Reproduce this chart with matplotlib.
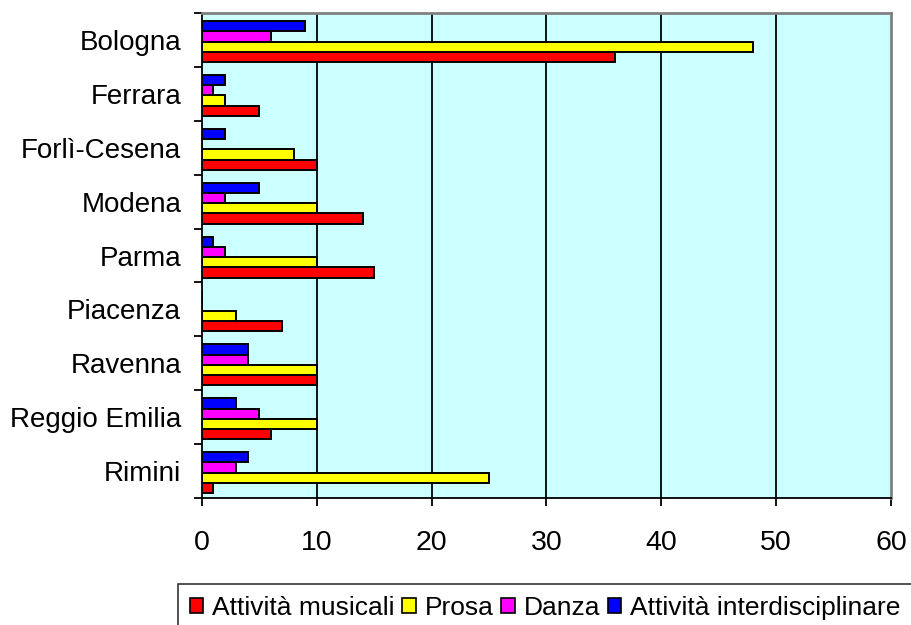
import matplotlib
matplotlib.use("Agg")
import matplotlib.pyplot as plt
import numpy as np
from matplotlib.patches import Patch

plt.rcParams['font.family'] = ['Liberation Sans', 'DejaVu Sans']

categories = ["Bologna", "Ferrara", "Forlì-Cesena", "Modena", "Parma",
              "Piacenza", "Ravenna", "Reggio Emilia", "Rimini"]
series_names = ["Attività musicali", "Prosa", "Danza", "Attività interdisciplinare"]
musicali = [36, 5, 10, 14, 15, 7, 10, 6, 1]
prosa = [48, 2, 8, 10, 10, 3, 10, 10, 25]
danza = [6, 1, 0, 2, 2, 0, 4, 5, 3]
interdisciplinare = [9, 2, 2, 5, 1, 0, 4, 3, 4]
colors = ["#FF0000", "#FFFF00", "#FF00FF", "#0000FF"]
xticks = [0, 10, 20, 30, 40, 50, 60]

fig = plt.figure(figsize=(9.12, 6.25), dpi=100)
ax = fig.add_axes([202/912, 1-498/625, (891-202)/912, (498-13)/625])
ax.set_facecolor("#CCFFFF")

y = np.arange(len(categories))
h = 0.19
offsets = [1.5*h, 0.5*h, -0.5*h, -1.5*h]
for vals, col, off in zip([musicali, prosa, danza, interdisciplinare], colors, offsets):
    ax.barh(y + off + 0.03, vals, height=h, color=col, edgecolor="black", linewidth=1.4, zorder=3)

ax.set_xlim(0, 60)
ax.set_ylim(len(categories) - 0.5, -0.5)
ax.set_xticks(xticks)
ax.set_xticklabels([str(t) for t in xticks], fontsize=20.5)
ax.set_yticks(y)
ax.set_yticklabels(categories, fontsize=20)
ax.set_yticks(np.arange(-0.5, len(categories) + 0.5, 1), minor=True)
ax.tick_params(axis='y', which='major', length=0, pad=15)
ax.tick_params(axis='y', which='minor', length=6, width=1.3, direction='out')
ax.tick_params(axis='x', which='major', length=6, width=1.3, direction='out', pad=17)

for xv in xticks[1:-1]:
    ax.axvline(xv, color="black", linewidth=1.3, zorder=1)

ax.spines['left'].set_color('black')
ax.spines['bottom'].set_color('black')
ax.spines['left'].set_linewidth(1.3)
ax.spines['bottom'].set_linewidth(1.3)
ax.spines['top'].set_color('#808080')
ax.spines['right'].set_color('#808080')
ax.spines['top'].set_linewidth(2)
ax.spines['right'].set_linewidth(2)

handles = [Patch(facecolor=c, edgecolor='black', linewidth=1.2) for c in colors]
leg = fig.legend(handles, series_names, loc='upper left',
                 bbox_to_anchor=(178/912, 1-584/625), ncol=4, fontsize=19,
                 frameon=True, fancybox=False, shadow=False,
                 handlelength=0.5, handleheight=0.5, handletextpad=0.34,
                 columnspacing=0.3, borderpad=0.45, borderaxespad=0)
leg.get_frame().set_edgecolor('black')
leg.get_frame().set_linewidth(1.2)

fig.savefig("out.png", dpi=100)
